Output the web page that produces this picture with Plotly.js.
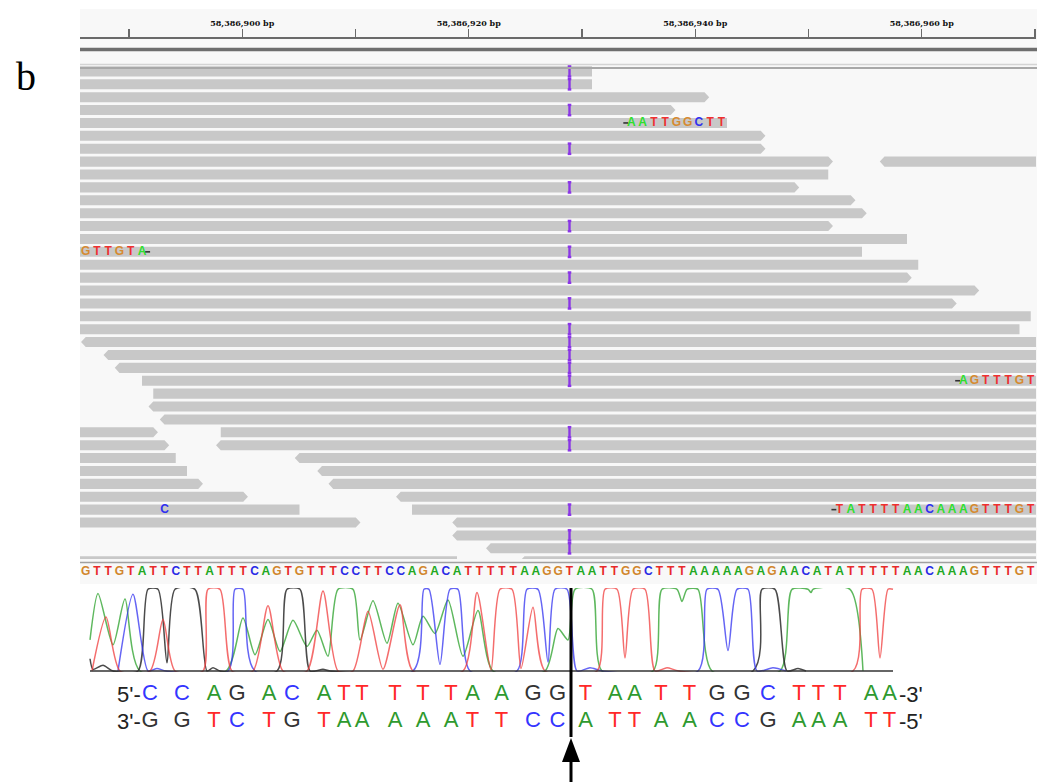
<!DOCTYPE html>
<html><head><meta charset="utf-8">
<script src="https://cdn.plot.ly/plotly-3.0.1.min.js"></script>
<style>html,body{margin:0;padding:0;background:#fff}#chart{width:1041px;height:782px}</style>
</head><body><div id="chart"></div>
<script>
// ================= DATA =================
// Genome ruler
const rulerTicks  = [58386890, 58386900, 58386910, 58386920, 58386930, 58386940, 58386950, 58386960, 58386970];
const rulerLabels = ['', '58,386,900 bp', '', '58,386,920 bp', '', '58,386,940 bp', '', '58,386,960 bp', ''];

// Reference sequence (first base position + bases)
const refStart = 58386886;
const refSeq = 'GTTGTATTCTTATTTCAGTGTTTCCTTCCAGACATTTTTAAGGTAATTGGCTTTAAAAAGAGAACATATTTTTAACAAAGTTTGT';

// Aligned reads (row, start, end, strand)
const readRow    = [0,1,2,3,4,5,6,7,7,8,9,10,11,12,13,14,15,16,17,18,19,20,
                    21,22,23,24,25,26,27,28,28,29,29,30,30,31,31,32,32,33,33,34,34,35,35,36,37,38,38];
const readStart  = [58386880,58386880,58386880,58386880,58386880,58386880,58386880,58386880,58386957,58386880,58386880,58386880,58386880,58386880,58386880,58386880,58386880,58386880,58386880,58386880,58386880,58386880,
                    58386886,58386888,58386889,58386891,58386892,58386892,58386893,58386880,58386898,58386880,58386898,58386880,58386905,58386880,58386907,58386880,58386908,58386880,58386914,58386880,58386915,58386880,58386919,58386919,58386922,58386880,58386925];
const readEnd    = [58386931,58386931,58386941,58386938,58386943,58386946,58386946,58386952,58386975,58386952,58386949,58386954,58386955,58386952,58386959,58386955,58386960,58386959,58386965,58386963,58386970,58386969,
                    58386975,58386975,58386975,58386975,58386975,58386975,58386975,58386892,58386975,58386893,58386975,58386894,58386975,58386895,58386975,58386896,58386975,58386900,58386975,58386905,58386975,58386910,58386975,58386975,58386975,58386919,58386975];
const readStrand = ['-','-','+','+','-','+','+','+','-','-','+','+','+','+','-','-','-','+','+','+','-','-',
                    '-','-','-','+','+','-','-','+','+','+','-','-','-','-','-','+','-','+','-','-','+','+','-','-','-','-','-'];

// Insertion markers (rows, position)
const insRows = [0,1,3,6,9,12,14,16,18,20,21,22,23,24,28,29,34,36,37];
const insPos  = 58386929;

// Soft-clipped / mismatched bases shown on reads
const mmRow   = [4, 14, 24, 34, 34];
const mmStart = [58386934.5, 58386886, 58386964, 58386893, 58386953];
const mmSeq   = ['AATTGGCTT', 'GTTGTA', 'AGTTTGT', 'C', 'TATTTTAACAAAGTTTGT'];
const mmClip  = ['left', 'right', 'left', 'none', 'left'];   // side of the clip junction mark

// Sanger chromatogram (scan position, relative signal 0-100)
const chromGx = [10,18,33,45,60,146,163,175,188,200,213,227,237,248,258,273,280,293,307,318,333,343,355,368,383,398,413,465,478,488,495,512,522,573,582,597,602,607,618,632,700,712,728,731,733,770,783];
const chromGy = [38,95,32,88,0,0,65,20,63,24,62,30,50,18,100,100,38,86,34,83,32,67,46,87,18,74,0,0,52,38,100,100,0,0,100,100,85,100,100,0,0,100,100,96,100,100,0];
const chromRx = [12,26,40,70,83,95,123,128,140,152,173,188,203,227,243,258,273,288,303,320,333,383,397,411,420,432,441,453,465,517,525,537,545,553,565,575,587,599,773,782,792,800,808,813];
const chromRy = [0,66,0,0,63,0,0,100,100,0,0,80,0,0,98,0,0,73,2,81,0,0,96,1,100,100,3,78,0,0,100,100,16,100,100,0,4,0,0,100,100,16,100,100];
const chromBx = [38,53,68,77,86,148,155,163,175,333,344,349,360,370,378,390,437,447,458,468,475,487,497,510,523,618,627,638,648,657,668,677,693,706];
const chromBy = [0,94,0,3,0,0,100,100,0,0,100,100,8,100,100,0,0,100,100,11,100,100,0,4,0,0,100,100,25,100,100,0,4,0];
const chromKx = [10,13,23,33,58,68,78,87,95,115,127,133,140,197,207,220,230,243,250,673,682,695,707,718,726];
const chromKy = [15,2,7,0,0,100,100,10,100,100,0,4,0,0,100,100,0,2,0,0,100,100,0,3,0];
const chromRange = [10, 813];
const cutPos = 491;

// Base calls under the trace
const seqTop = 'CCAGACATTTTTAAGGTAATTGGCTTTAA';
const seqBot = 'GGTCTGTAAAAATTCCATTAACCGAAATT';
const seqPos = [70,102,134,157,189,212,244,264,282,315,343,371,392.5,421.5,453,477.5,505.5,535,554.5,581,609.5,637,662,688,719,738.5,760,791,809.5];

// ================= STYLE =================
const W = 1041, HT = 782;
const fx = p => p / W, fy = p => 1 - p / HT;
const igvCol  = {A:'#22a822', C:'#2a2ae6', G:'#d1862c', T:'#e82a2a'};
const readCol = {A:'#2ee02e', C:'#3030f0', G:'#d68a30', T:'#ee3030'};
const seqCol  = {A:'#2e9a2e', C:'#3535ff', G:'#333333', T:'#ff2828'};

// ================= TRACES =================
const traces = [];

// ruler subplot carrier (invisible)
traces.push({type:'scatter', mode:'markers', x:rulerTicks, y:rulerTicks.map(() => 0.5), xaxis:'x', yaxis:'y',
  marker:{size:1, opacity:0}, hoverinfo:'skip', showlegend:false});

// reads as arrow-shaped polygons
const RH = 0.39, TIP = 0.42;
const rx = [], ry = [];
for (let i = 0; i < readRow.length; i++) {
  const s = readStart[i], e = readEnd[i], r = readRow[i];
  const y0 = r - RH, y1 = r + RH;
  let pts;
  if (readStrand[i] === '+') pts = [[s,y0],[e,y0],[e+TIP,r],[e,y1],[s,y1],[s,y0]];
  else pts = [[s,y0],[e,y0],[e,y1],[s,y1],[s-TIP,r],[s,y0]];
  pts.forEach(p => { rx.push(p[0]); ry.push(p[1]); });
  rx.push(null); ry.push(null);
}
traces.push({type:'scatter', mode:'lines', x:rx, y:ry, xaxis:'x2', yaxis:'y2',
  fill:'toself', fillcolor:'#c8c8c8', line:{width:0, color:'#c8c8c8'}, hoverinfo:'skip', showlegend:false});

// insertion markers (purple I-beams)
const ix = [], iy = [];
insRows.forEach(r => {
  const a = r - 0.4, b = r + 0.4;
  ix.push(insPos, insPos, null, insPos-0.16, insPos+0.16, null, insPos-0.16, insPos+0.16, null);
  iy.push(a, b, null, a, a, null, b, b, null);
});
traces.push({type:'scatter', mode:'lines', x:ix, y:iy, xaxis:'x2', yaxis:'y2',
  line:{width:2.4, color:'#8a35e6'}, hoverinfo:'skip', showlegend:false});

// mismatch / soft-clip letters
const mx = [], my = [], mt = [], mc = [];
const jx = [], jy = [];
mmSeq.forEach((s, k) => {
  for (let j = 0; j < s.length; j++) {
    mx.push(mmStart[k] + j); my.push(mmRow[k]); mt.push(s[j]); mc.push(readCol[s[j]]);
  }
  if (mmClip[k] === 'left')  { jx.push(mmStart[k] - 0.5); jy.push(mmRow[k]); }
  if (mmClip[k] === 'right') { jx.push(mmStart[k] + s.length - 0.5); jy.push(mmRow[k]); }
});
traces.push({type:'scatter', mode:'text', x:mx, y:my, text:mt, xaxis:'x2', yaxis:'y2',
  textposition:'middle center', textfont:{family:'Liberation Sans', size:12, weight:700, color:mc},
  hoverinfo:'skip', showlegend:false});
traces.push({type:'scatter', mode:'markers', x:jx, y:jy, xaxis:'x2', yaxis:'y2',
  marker:{symbol:'line-ew', size:3.5, line:{width:1.6, color:'#333'}}, hoverinfo:'skip', showlegend:false});

// reference sequence row
const fx2 = [], ft = [], fc = [];
for (let i = 0; i < refSeq.length; i++) { fx2.push(refStart + i); ft.push(refSeq[i]); fc.push(igvCol[refSeq[i]]); }
traces.push({type:'scatter', mode:'text', x:fx2, y:fx2.map(() => 0), text:ft, xaxis:'x2', yaxis:'y3',
  textposition:'middle center', textfont:{family:'Liberation Sans', size:12, weight:700, color:fc},
  hoverinfo:'skip', showlegend:false});

// chromatogram
const chromLine = (x, y, c) => ({type:'scatter', mode:'lines', x:x, y:y, xaxis:'x3', yaxis:'y4',
  line:{color:c, width:1.5, shape:'spline', smoothing:0.7}, hoverinfo:'skip', showlegend:false});
traces.push(chromLine(chromGx, chromGy, 'rgba(40,160,40,0.75)'));
traces.push(chromLine(chromKx, chromKy, 'rgba(30,30,30,0.8)'));
traces.push(chromLine(chromBx, chromBy, 'rgba(50,50,240,0.75)'));
traces.push(chromLine(chromRx, chromRy, 'rgba(240,60,60,0.75)'));

// base-call text
traces.push({type:'scatter', mode:'text', x:seqPos, y:seqPos.map(() => 1), text:seqTop.split(''),
  xaxis:'x3', yaxis:'y5', textposition:'middle center',
  textfont:{family:'Liberation Sans', size:22, color:seqTop.split('').map(b => seqCol[b])}, hoverinfo:'skip', showlegend:false});
traces.push({type:'scatter', mode:'text', x:seqPos, y:seqPos.map(() => 0), text:seqBot.split(''),
  xaxis:'x3', yaxis:'y5', textposition:'middle center',
  textfont:{family:'Liberation Sans', size:22, color:seqBot.split('').map(b => seqCol[b])}, hoverinfo:'skip', showlegend:false});

// ================= LAYOUT =================
const dom = [fx(80), fx(1036)];
const rs = 11.325;           // ruler px per bp
const ds = 11.25;            // alignment px per bp
const hidden = {visible:false, fixedrange:true, showgrid:false, zeroline:false};

const layout = {
  width:W, height:HT, margin:{l:0, r:0, t:0, b:0},
  paper_bgcolor:'#ffffff', plot_bgcolor:'rgba(0,0,0,0)', showlegend:false,
  xaxis:{domain:dom, anchor:'y', side:'top', range:[58386890 - 49/rs, 58386890 + 907/rs],
    tickmode:'array', tickvals:rulerTicks, ticktext:rulerLabels, ticks:'outside', ticklen:8, tickwidth:1.2, tickcolor:'#6a6a6a',
    showline:true, linecolor:'#6a6a6a', linewidth:1.5, showgrid:false, zeroline:false, fixedrange:true,
    tickfont:{family:'DejaVu Serif', size:8, weight:'bold', color:'#111'}},
  yaxis:{domain:[fy(45), fy(38.5)], range:[0,1], anchor:'x', showticklabels:false, ticks:'', showline:false,
    showgrid:false, zeroline:false, fixedrange:true},
  xaxis2:Object.assign({domain:dom, anchor:'y2', range:[58386931 - 512/ds, 58386931 + 444/ds]}, hidden),
  yaxis2:Object.assign({domain:[fy(559), fy(62)], range:[37.83, -0.729], anchor:'x2'}, hidden),
  yaxis3:Object.assign({domain:[fy(580), fy(563)], range:[-1, 1], anchor:'x2'}, hidden),
  xaxis3:Object.assign({domain:dom, anchor:'y4', range:[0, 956]}, hidden),
  yaxis4:Object.assign({domain:[fy(672), fy(588)], range:[-1.22, 101.6], anchor:'x3'}, hidden),
  yaxis5:Object.assign({domain:[fy(735), fy(680)], range:[-0.473, 1.527], anchor:'x3'}, hidden),
  shapes:[
    // IGV panel background
    {type:'rect', xref:'paper', yref:'paper', x0:fx(80), x1:fx(1037), y0:fy(584), y1:fy(9), fillcolor:'#f8f8f8', line:{width:0}, layer:'below'},
    // ruler thick line
    {type:'line', xref:'paper', yref:'paper', x0:fx(80), x1:fx(1037), y0:fy(49.5), y1:fy(49.5), line:{color:'#6e6e6e', width:3.5}},
    // alignment panel top border
    {type:'line', xref:'paper', yref:'paper', x0:fx(80), x1:fx(1037), y0:fy(64.5), y1:fy(64.5), line:{color:'#d4d4d4', width:1.5}},
    {type:'line', xref:'paper', yref:'paper', x0:fx(80), x1:fx(1037), y0:fy(68), y1:fy(68), line:{color:'#a8a8a8', width:2}},
    // alignment panel bottom border
    {type:'line', xref:'paper', yref:'paper', x0:fx(80), x1:fx(1037), y0:fy(562.5), y1:fy(562.5), line:{color:'#a0a0a0', width:1.5}},
    // chromatogram baseline
    {type:'line', xref:'x3', yref:'y4', x0:chromRange[0], x1:chromRange[1], y0:0, y1:0, line:{color:'#333', width:1.5}},
    // cut-site line
    {type:'line', xref:'x3', yref:'paper', x0:cutPos, x1:cutPos, y0:fy(737), y1:fy(588), line:{color:'#000', width:3}},
    // arrow head + shaft
    {type:'path', xref:'x3', yref:'paper', path:`M ${cutPos},${fy(738)} L ${cutPos+9},${fy(762)} L ${cutPos-9},${fy(762)} Z`, fillcolor:'#000', line:{width:0}},
    {type:'line', xref:'x3', yref:'paper', x0:cutPos, x1:cutPos, y0:fy(782), y1:fy(760), line:{color:'#000', width:3}}
  ],
  annotations:[
    {xref:'paper', yref:'paper', x:fx(26), y:fy(77), text:'b', showarrow:false, xanchor:'center', yanchor:'middle',
      font:{family:'Liberation Serif', size:40, color:'#000'}},
    {xref:'x3', yref:'y5', x:seqPos[0], y:1, text:"5'-", showarrow:false, xanchor:'right', yanchor:'middle', xshift:-7,
      font:{family:'Liberation Sans', size:22, color:'#222'}},
    {xref:'x3', yref:'y5', x:seqPos[0], y:0, text:"3'-", showarrow:false, xanchor:'right', yanchor:'middle', xshift:-7,
      font:{family:'Liberation Sans', size:22, color:'#222'}},
    {xref:'x3', yref:'y5', x:seqPos[seqPos.length-1], y:1, text:"-3'", showarrow:false, xanchor:'left', yanchor:'middle', xshift:7,
      font:{family:'Liberation Sans', size:22, color:'#222'}},
    {xref:'x3', yref:'y5', x:seqPos[seqPos.length-1], y:0, text:"-5'", showarrow:false, xanchor:'left', yanchor:'middle', xshift:7,
      font:{family:'Liberation Sans', size:22, color:'#222'}}
  ]
};

Plotly.newPlot('chart', traces, layout, {staticPlot:true, displayModeBar:false});
</script>
</body></html>
